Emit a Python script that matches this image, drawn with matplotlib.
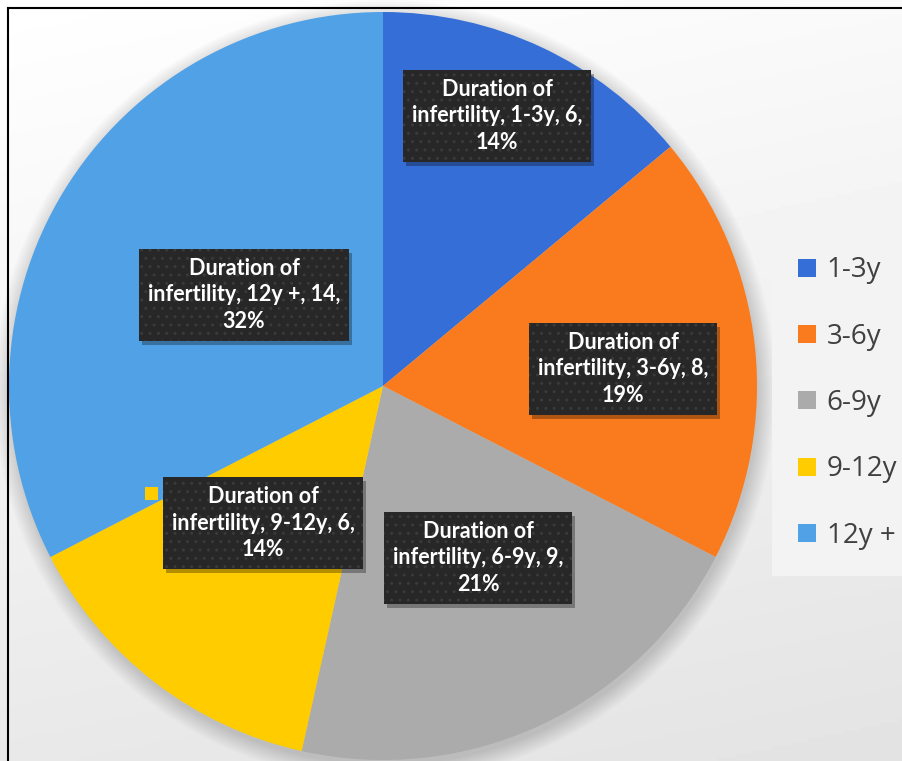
import numpy as np
import matplotlib.pyplot as plt
from matplotlib.patches import Circle, Rectangle
from matplotlib.lines import Line2D

# data
categories = ["1-3y", "3-6y", "6-9y", "9-12y", "12y +"]
counts = [6, 8, 9, 6, 14]
percents = [14, 19, 21, 14, 32]
colors = ["#356ED6", "#FA7B1E", "#ABABAB", "#FFCC00", "#51A1E6"]

W, H = 903, 761
# label box centres (pixel coords, y from top)
label_pos = [(497, 116), (623, 369), (478, 558), (263, 523), (244, 295)]

fig = plt.figure(figsize=(W / 100, H / 100), dpi=100)
ax = fig.add_axes([0, 0, 1, 1])

# background gradient, white at top to light gray at bottom
yy, xx = np.mgrid[0:1:200j, 0:1:200j]
grad = 1 - 0.11 * np.clip(0.8 * yy + 0.2 * xx, 0, 1)
ax.imshow(grad, cmap="gray", vmin=0, vmax=1, extent=(0, W, 0, H),
          origin="upper", zorder=0, aspect="auto")

cx, cy, r = 383, H - 386, 374

# soft shadow under the pie
for i in range(14):
    ax.add_patch(Circle((cx + 2, cy - 5), r + i * 1.3, color="k",
                        alpha=0.012, lw=0, zorder=1))

wedges, _ = ax.pie(counts, colors=colors, startangle=90, counterclock=False,
                   center=(cx, cy), radius=r,
                   wedgeprops=dict(linewidth=0))
for w in wedges:
    w.set_zorder(2)

labels = []
for cat, n, p, (px, py) in zip(categories, counts, percents, label_pos):
    txt = f"Duration of\ninfertility, {cat}, {n},\n{p}%"
    t = ax.text(px, H - py, txt, ha="center", va="center", color="white",
                fontsize=15.5, fontweight="bold", family="Lato",
                linespacing=1.33,
                bbox=dict(boxstyle="square,pad=0.42", fc="#272727",
                          ec="#3a3a3a", hatch="..", lw=0), zorder=4)
    labels.append(t)

ax.set_xlim(0, W)
ax.set_ylim(0, H)
ax.set_aspect("equal")
ax.axis("off")

# drop shadows behind the label boxes and the legend key of the 9-12y label
fig.canvas.draw()
for i, t in enumerate(labels):
    bb = t.get_bbox_patch().get_window_extent()
    ax.add_patch(Rectangle((bb.x0 + 3, bb.y0 - 4), bb.width, bb.height,
                           fc="k", alpha=0.3, lw=0, zorder=3))
    if i == 3:
        ax.add_patch(Rectangle((bb.x0 - 18, bb.y1 - 23), 13, 13,
                               fc=colors[3], ec="none", zorder=4))

leg = ax.legend(wedges, categories, loc="upper left",
                bbox_to_anchor=(772 / W, 1 - 230 / H), borderaxespad=0,
                frameon=True, fancybox=False, facecolor="#f3f3f3",
                edgecolor="none", framealpha=1,
                labelspacing=1.38, handlelength=0.62, handleheight=0.62,
                handletextpad=0.4, borderpad=0.95, labelcolor="#404040",
                prop=dict(family="Open Sans", size=20))
leg.set_zorder(5)

# figure border at top and left
ax.add_line(Line2D([8, W], [H - 7.5, H - 7.5], color="k", lw=1.5, zorder=6))
ax.add_line(Line2D([8, 8], [0, H - 7.5], color="k", lw=1.5, zorder=6))

fig.savefig("out.png", dpi=100)
